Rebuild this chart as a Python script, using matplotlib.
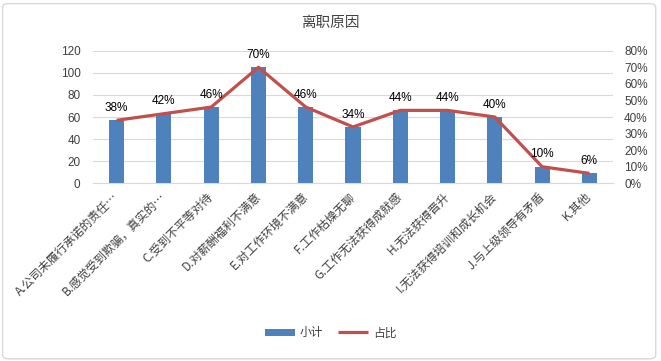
import matplotlib
matplotlib.use("Agg")
import matplotlib.pyplot as plt
from matplotlib.patches import FancyBboxPatch
from matplotlib.ticker import FuncFormatter, MultipleLocator

plt.rcParams['font.family'] = ['Noto Sans CJK SC', 'DejaVu Sans']

title = "离职原因"
categories = ["A.公司未履行承诺的责任…", "B.感觉受到欺骗，真实的…", "C.受到不平等对待",
              "D.对薪酬福利不满意", "E.对工作环境不满意", "F.工作枯燥无聊",
              "G.工作无法获得成就感", "H.无法获得晋升", "I.无法获得培训和成长机会",
              "J.与上级领导有矛盾", "K.其他"]
counts = [57, 63, 69, 105, 69, 51, 66, 66, 60, 15, 9]
shares = [0.38, 0.42, 0.46, 0.70, 0.46, 0.34, 0.44, 0.44, 0.40, 0.10, 0.06]
share_labels = ["38%", "42%", "46%", "70%", "46%", "34%", "44%", "44%", "40%", "10%", "6%"]
bar_name = "小计"
line_name = "占比"

blue = "#4F81BD"
red = "#C0504D"
grid = "#D9D9D9"
txt = "#404040"

fig = plt.figure(figsize=(6.61, 3.61), dpi=100)
fig.patch.set_facecolor("white")
border = FancyBboxPatch((0.004, 0.006), 0.988, 0.984, boxstyle="round,pad=0,rounding_size=0.01",
                        transform=fig.transFigure, facecolor="none", edgecolor="#D9D9D9",
                        linewidth=1.0, zorder=-5)
fig.patches.append(border)

ax = fig.add_axes([0.1407, 0.4922, 0.7867, 0.3674])
ax.set_facecolor("none")
x = list(range(len(categories)))
bars = ax.bar(x, counts, width=0.32, color=blue, zorder=2, label=bar_name)
ax.set_xlim(-0.5, len(categories) - 0.5)
ax.set_ylim(0, 120)
ax.yaxis.set_major_locator(MultipleLocator(20))
ax.grid(axis="y", color=grid, linewidth=0.8, zorder=0)
ax.set_axisbelow(True)
for s in ["top", "right", "left"]:
    ax.spines[s].set_visible(False)
ax.spines["bottom"].set_color(grid)
ax.tick_params(axis="both", length=0, colors=txt)
ax.tick_params(axis="y", pad=9)
ax.set_xticks(x)
ax.set_xticklabels(categories, rotation=45, ha="right", va="center",
                   rotation_mode="anchor", fontsize=8.5, color=txt)
ax.tick_params(axis="x", pad=8)
for lab in ax.get_yticklabels():
    lab.set_family(['Liberation Sans', 'DejaVu Sans'])
    lab.set_fontsize(8.5)

ax2 = ax.twinx()
line, = ax2.plot(x, shares, color=red, linewidth=2.3, zorder=3, label=line_name,
                 solid_capstyle="butt")
ax2.set_ylim(0, 0.8)
ax2.yaxis.set_major_locator(MultipleLocator(0.1))
ax2.yaxis.set_major_formatter(FuncFormatter(lambda v, p: f"{v*100:.0f}%"))
for s in ["top", "right", "left", "bottom"]:
    ax2.spines[s].set_visible(False)
ax2.tick_params(axis="y", length=0, labelsize=8.5, colors=txt, pad=8)
for lab in ax2.get_yticklabels():
    lab.set_family(['Liberation Sans', 'DejaVu Sans'])

for xi, s, lbl in zip(x, shares, share_labels):
    ax2.annotate(lbl, (xi, s), xytext=(0, 4.5), textcoords="offset points",
                 ha="center", va="bottom", fontsize=8.5, color="#000000",
                 family=['Liberation Sans', 'DejaVu Sans'])

fig.text(0.5, 0.937, title, ha="center", va="center", fontsize=10.5, color=txt)

fig.legend([bars, line], [bar_name, line_name], loc="center", bbox_to_anchor=(0.5, 0.078),
           ncol=2, frameon=False, fontsize=8.5, handlelength=2.6, handleheight=0.55,
           columnspacing=1.2, handletextpad=0.4, labelcolor=txt)

fig.savefig("out.png", dpi=100, facecolor="white")
